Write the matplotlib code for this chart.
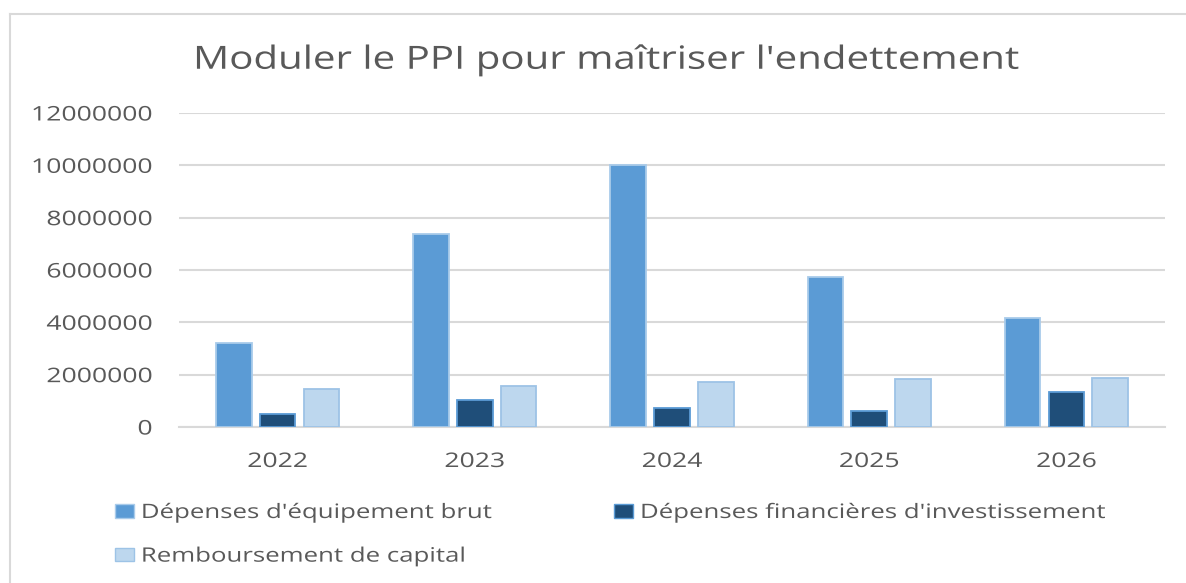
import matplotlib
matplotlib.use("Agg")
import matplotlib.pyplot as plt
import numpy as np
from matplotlib.lines import Line2D
from matplotlib.patches import Patch
from matplotlib.patheffects import AbstractPathEffect
from matplotlib.transforms import Affine2D

years = ["2022", "2023", "2024", "2025", "2026"]
equipement = [3210000, 7360000, 10030000, 5730000, 4150000]
financieres = [480000, 1020000, 730000, 630000, 1330000]
remboursement = [1465000, 1570000, 1720000, 1820000, 1870000]
series_names = ["Dépenses d'équipement brut",
                "Dépenses financières d'investissement",
                "Remboursement de capital"]
yticks = [0, 2000000, 4000000, 6000000, 8000000, 10000000, 12000000]
title = "Moduler le PPI pour maîtriser l'endettement"


class HStretch(AbstractPathEffect):
    """Stretch a text horizontally around one of its edges / centre."""

    def __init__(self, text, sx, anchor="center"):
        super().__init__()
        self.text = text
        self.sx = sx
        self.anchor = anchor

    def draw_path(self, renderer, gc, tpath, affine, rgbFace=None):
        bb = self.text.get_window_extent(renderer)
        cx = {"center": (bb.x0 + bb.x1) / 2, "right": bb.x1, "left": bb.x0}[self.anchor]
        aff = affine + Affine2D().translate(-cx, 0).scale(self.sx, 1).translate(cx, 0)
        renderer.draw_path(gc, tpath, aff, rgbFace)


def stretch(t, sx, anchor):
    t.set_path_effects([HStretch(t, sx, anchor)])


W, H = 1186, 583
fig = plt.figure(figsize=(W / 100, H / 100), dpi=100)
fig.patch.set_facecolor("white")
FONT = "Open Sans"
TXT = "#595959"

ax = fig.add_axes([179 / W, (H - 427) / H, (1165 - 179) / W, (427 - 113) / H])
x = np.arange(len(years))
bw = 0.18
off = 0.222
specs = [
    (equipement, "#5B9BD5", "#A9CBEA"),
    (financieres, "#1F4E79", "#5B9BD5"),
    (remboursement, "#BDD7EE", "#9DC3E6"),
]
for i, (vals, fc, ec) in enumerate(specs):
    ax.bar(x + (i - 1) * off, vals, width=bw, color=fc, edgecolor=ec,
           linewidth=1.3, zorder=3)

ax.set_xlim(-0.5, len(years) - 0.5)
ax.set_ylim(0, 12000000)
ax.set_yticks(yticks)
ax.set_yticklabels([str(v) for v in yticks], fontfamily=FONT, fontsize=14.5, color=TXT)
ax.set_xticks(x)
ax.set_xticklabels(years, fontfamily=FONT, fontsize=14.5, color=TXT)
ax.tick_params(axis="both", length=0)
ax.tick_params(axis="y", pad=19)
ax.tick_params(axis="x", pad=18)
ax.grid(axis="y", color="#D9D9D9", linewidth=1.5, zorder=0)
for s in ["top", "right", "left"]:
    ax.spines[s].set_visible(False)
ax.spines["bottom"].set_color("#D9D9D9")
ax.spines["bottom"].set_linewidth(1.5)
ax.set_axisbelow(True)
for t in ax.get_yticklabels():
    stretch(t, 1.32, "right")
for t in ax.get_xticklabels():
    stretch(t, 1.32, "center")

tt = fig.text(607 / W, 1 - 60 / H, title, ha="center", va="center",
              fontfamily=FONT, fontsize=23, color=TXT)
stretch(tt, 1.26, "center")

handles = [Patch(facecolor=c, edgecolor=e, linewidth=1.0) for _, c, e in specs]
order = [0, 2, 1]
fs = 14.3
leg = fig.legend([handles[i] for i in order], [series_names[i] for i in order],
                 ncol=2, loc="upper left", bbox_to_anchor=(115 / W, 1 - 503 / H),
                 frameon=False, handlelength=0.95, handleheight=0.65,
                 handletextpad=0.35, columnspacing=10.2, labelspacing=1.19,
                 borderpad=0, borderaxespad=0,
                 prop={"family": FONT, "size": fs})
for t in leg.get_texts():
    t.set_color(TXT)
    stretch(t, 1.3, "left")

# chart frame
fig.add_artist(Line2D([10 / W, 1.0], [1 - 14 / H, 1 - 14 / H], color="#D9D9D9", linewidth=1.5))
fig.add_artist(Line2D([10 / W, 10 / W], [1 - 14 / H, 0], color="#D9D9D9", linewidth=1.5))

fig.savefig("out.png", dpi=100, facecolor="white")
